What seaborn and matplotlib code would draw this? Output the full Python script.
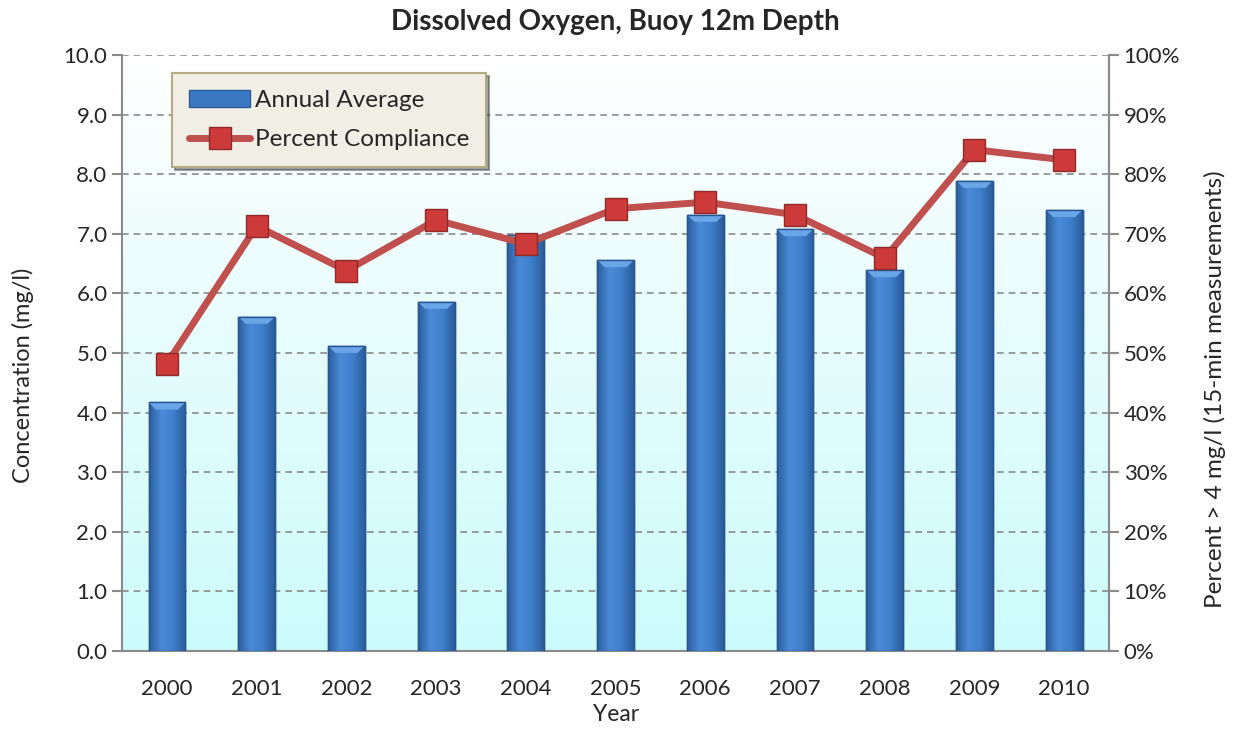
import numpy as np
import pandas as pd
import matplotlib
matplotlib.use("Agg")
import matplotlib.pyplot as plt
import seaborn as sns
from matplotlib.colors import LinearSegmentedColormap

# data
years = ["2000", "2001", "2002", "2003", "2004", "2005",
         "2006", "2007", "2008", "2009", "2010"]
annual_avg = [4.17, 5.61, 5.12, 5.86, 6.98, 6.56, 7.32, 7.08, 6.39, 7.89, 7.40]
pct_compliance = [48.2, 71.3, 63.8, 72.3, 68.3, 74.2, 75.3, 73.2, 65.9, 84.1, 82.4]

df = pd.DataFrame({"Year": years, "Avg": annual_avg, "Pct": pct_compliance})

sns.set_style("white")
plt.rcParams["font.family"] = ["Lato", "DejaVu Sans"]

fig = plt.figure(figsize=(12.33, 7.33), dpi=100)
ax = fig.add_axes([0.099, 0.112, 0.8005, 0.813])

# background gradient white (top) -> light cyan (bottom)
bg = LinearSegmentedColormap.from_list("bg", ["#ffffff", "#ccfbfb"])
grad = np.linspace(0, 1, 256).reshape(-1, 1)
ax.imshow(grad, cmap=bg, aspect="auto", extent=(-0.5, 10.5, 0, 10),
          origin="upper", zorder=0)

sns.barplot(data=df, x="Year", y="Avg", ax=ax, color="#3a78c3", width=0.41,
            saturation=1, edgecolor="#2a5a94", linewidth=1.0, zorder=3,
            label="Annual Average")

# shade each bar with a horizontal gradient
bar_cmap = LinearSegmentedColormap.from_list(
    "bar", ["#2b5d9c", "#4a8ad6", "#3f7fcb", "#2b5d9c"])
hgrad = np.linspace(0, 1, 64).reshape(1, -1)
for p in ax.patches:
    x0, w, h = p.get_x(), p.get_width(), p.get_height()
    im = ax.imshow(hgrad, cmap=bar_cmap, aspect="auto",
                   extent=(x0, x0 + w, 0, h), zorder=3.5)
    im.set_clip_path(p)
    top = plt.Polygon([[x0, h], [x0 + w, h], [x0 + w * 0.8, h - 0.12], [x0 + w * 0.2, h - 0.12]],
                      closed=True, facecolor="#6aa5e8", edgecolor="none", zorder=3.6)
    ax.add_patch(top)
    ax.add_patch(plt.Rectangle((x0, 0), w, h, facecolor="none",
                               edgecolor="#285690", linewidth=1.0, zorder=3.7))

ax.set_xlim(-0.5, 10.5)
ax.set_ylim(0, 10)
ax.set_yticks(np.arange(0, 10.01, 1))
ax.set_yticklabels([f"{v:.1f}" for v in np.arange(0, 10.01, 1)])
ax.yaxis.grid(True, linestyle=(0, (4, 3)), color="#8a8a8a", linewidth=1.2, zorder=1)
ax.set_axisbelow(True)

ax.set_xticks(range(len(years)))
ax.set_xticklabels(years)
ax.set_xticks(np.arange(-0.5, 10.6, 1), minor=True)
ax.tick_params(axis="x", which="major", length=0, labelsize=16, pad=20)
ax.tick_params(axis="x", which="minor", length=7, color="#8a8a8a", width=1.5, direction="out")
ax.tick_params(axis="y", length=7, color="#8a8a8a", width=1.5, direction="out", labelsize=16, left=True)

for s in ax.spines.values():
    s.set_color("#8a8a8a")
    s.set_linewidth(1.5)
ax.spines["top"].set_visible(False)

ax.set_xlabel("Year", fontsize=16.5, labelpad=4)
ax.set_ylabel("Concentration (mg/l)", fontsize=17)
ax.yaxis.set_label_coords(-0.089, 0.463)
ax.set_title("Dissolved Oxygen, Buoy 12m Depth", fontsize=20, fontweight="bold", pad=18)
if ax.get_legend() is not None:
    ax.get_legend().remove()

ax2 = ax.twinx()
sns.lineplot(data=df, x="Year", y="Pct", ax=ax2, color="#c0504d", linewidth=5,
             marker="s", markersize=16, markerfacecolor="#cc3a3a",
             markeredgecolor="#8e2a28", markeredgewidth=1, zorder=5,
             label="Percent Compliance")
ax2.set_ylim(0, 100)
ax2.set_xlim(-0.5, 10.5)
ax2.set_yticks(np.arange(0, 101, 10))
ax2.set_yticklabels([f"{v}%" for v in range(0, 101, 10)])
ax2.tick_params(axis="y", length=7, color="#8a8a8a", width=1.5, direction="out", labelsize=16, right=True)
ax2.set_ylabel("Percent > 4 mg/l (15-min measurements)", fontsize=17.5)
ax2.yaxis.set_label_coords(1.096, 0.44)
for s in ax2.spines.values():
    s.set_visible(False)
ax2.spines["right"].set_visible(True)
ax2.spines["right"].set_color("#8a8a8a")
ax2.spines["right"].set_linewidth(1.5)
ax2.legend_.remove()

h1, l1 = ax.get_legend_handles_labels()
h2, l2 = ax2.get_legend_handles_labels()
leg = ax2.legend(h1[:1] + h2, ["Annual Average", "Percent Compliance"], loc="upper left",
                 bbox_to_anchor=(0.051, 0.97),
                 fontsize=17.5, frameon=True, fancybox=False, shadow=True,
                 facecolor="#f1eee6", edgecolor="#b3ab82", borderpad=0.7,
                 labelspacing=0.75, handlelength=2.5, handletextpad=0.2,
                 borderaxespad=0)
leg.get_frame().set_linewidth(1.5)
leg.set_zorder(10)

fig.savefig("out.png", dpi=100)
